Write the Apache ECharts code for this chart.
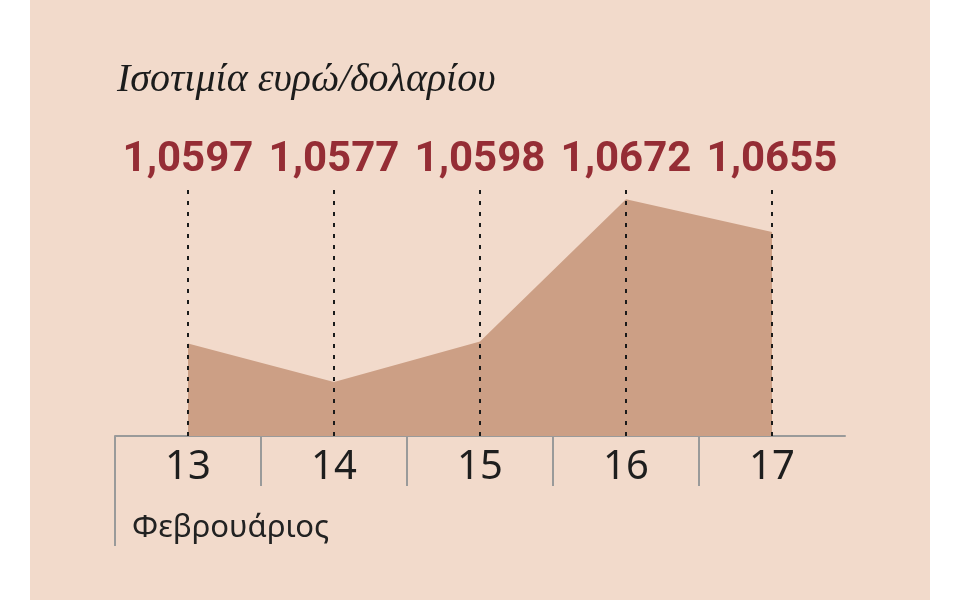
<!DOCTYPE html>
<html>
<head>
<meta charset="UTF-8">
<title>Ισοτιμία ευρώ/δολαρίου</title>
<script src="https://cdn.jsdelivr.net/npm/echarts@6/dist/echarts.min.js"></script>
<style>
    html, body { margin: 0; padding: 0; background: #ffffff; }
    #wrap { position: relative; width: 960px; height: 600px; background: #ffffff; }
    #main { position: absolute; left: 30px; top: 0; width: 900px; height: 600px; }
</style>
</head>
<body>
<div id="wrap"><div id="main"></div></div>
<script type="text/javascript">
    // ημέρες Φεβρουαρίου και ισοτιμία
    var days = ['13', '14', '15', '16', '17'];
    var rates = [1.0597, 1.0577, 1.0598, 1.0672, 1.0655];
    var titleText = 'Ισοτιμία ευρώ/δολαρίου';
    var monthText = 'Φεβρουάριος';

    function fmt(v) {
        return v.toFixed(4).replace('.', ',');
    }

    var myChart = echarts.init(document.getElementById('main'));

    var option = {
        backgroundColor: '#f2dacb',
        animation: false,
        title: [
            {
                text: titleText,
                left: 87,
                top: 60,
                padding: 0,
                textStyle: {
                    fontFamily: 'Liberation Serif',
                    fontStyle: 'italic',
                    fontWeight: 'normal',
                    fontSize: 40,
                    color: '#1c1c1c'
                }
            },
            {
                text: monthText,
                left: 102,
                top: 513,
                padding: 0,
                textStyle: {
                    fontFamily: 'Noto Sans',
                    fontWeight: 'normal',
                    fontSize: 31,
                    color: '#222222'
                }
            }
        ],
        grid: {
            left: 85,
            right: 85,
            top: 190,
            bottom: 164
        },
        xAxis: [
            {
                type: 'category',
                data: days,
                boundaryGap: true,
                axisLine: { show: true, lineStyle: { color: '#9a9a9a', width: 2 } },
                axisTick: { show: false },
                splitLine: { show: false },
                axisLabel: {
                    margin: 12,
                    fontFamily: 'Noto Sans',
                    fontSize: 40,
                    color: '#1e1e1e'
                }
            },
            {
                // διαχωριστικά ανάμεσα στις ημέρες
                type: 'category',
                data: days.concat(['']),
                boundaryGap: false,
                position: 'bottom',
                axisLine: { show: false },
                axisTick: {
                    show: true,
                    length: 50,
                    interval: function (index) { return index < days.length; },
                    lineStyle: { color: '#9a9a9a', width: 2 }
                },
                axisLabel: { show: false },
                splitLine: { show: false }
            }
        ],
        yAxis: {
            type: 'value',
            min: 1.05489,
            max: 1.06768,
            show: false,
            splitLine: { show: false }
        },
        graphic: [
            {
                type: 'line',
                shape: { x1: 85, y1: 436, x2: 85, y2: 546 },
                style: { stroke: '#9a9a9a', lineWidth: 2 }
            }
        ],
        series: [
            {
                name: 'EUR/USD',
                type: 'line',
                data: rates,
                symbol: 'none',
                lineStyle: { width: 0 },
                areaStyle: { color: '#cc9f85', opacity: 1 },
                markLine: {
                    silent: true,
                    symbol: ['none', 'none'],
                    lineStyle: { type: [4, 7], color: '#1a1a1a', width: 2 },
                    label: {
                        show: true,
                        position: 'end',
                        distance: 8,
                        fontFamily: 'Roboto',
                        fontWeight: 'bold',
                        fontSize: 42,
                        lineHeight: 44,
                        color: '#952d35'
                    },
                    data: rates.map(function (v, i) {
                        return { xAxis: i, label: { formatter: fmt(v) } };
                    })
                }
            }
        ]
    };
    myChart.setOption(option);
</script>
</body>
</html>
